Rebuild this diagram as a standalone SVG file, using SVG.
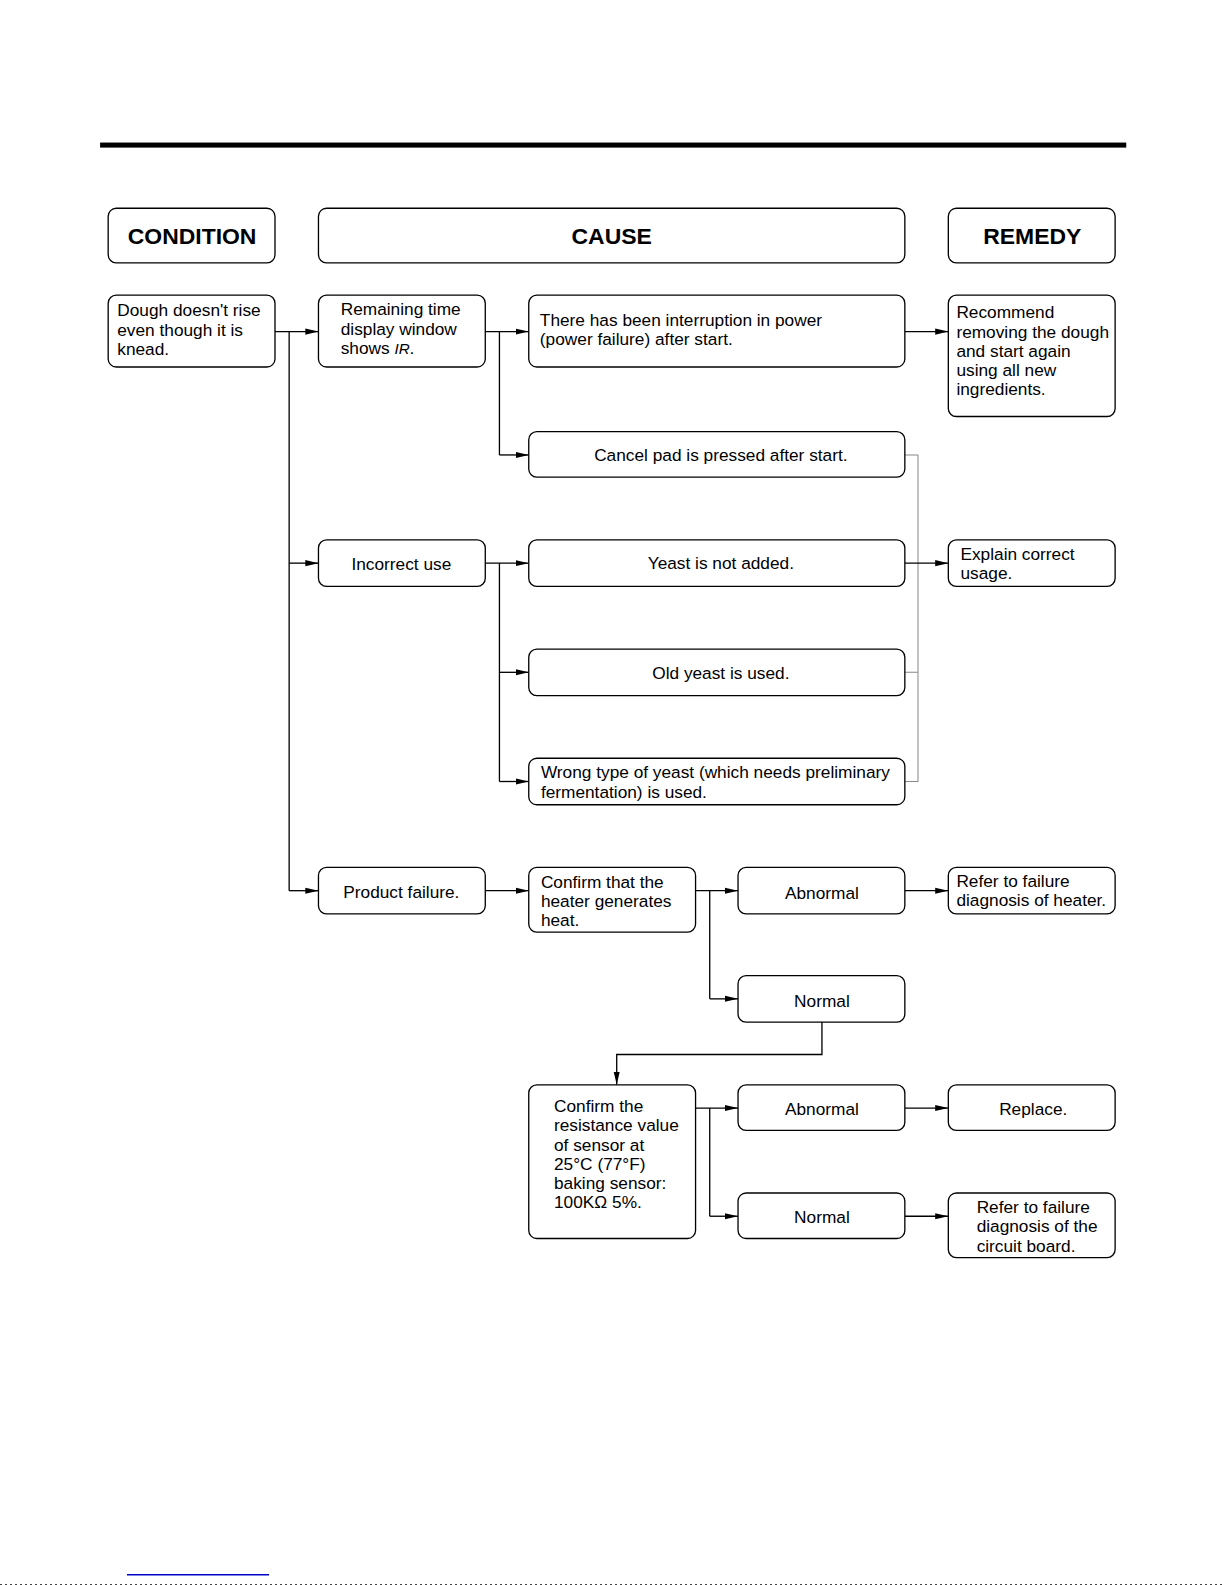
<svg xmlns="http://www.w3.org/2000/svg" width="1225" height="1585" viewBox="0 0 1225 1585">
<defs>
<marker id="ah" markerWidth="14" markerHeight="8" refX="13" refY="4" orient="auto" markerUnits="userSpaceOnUse">
<path d="M0,1 L13,4 L0,7 Z" fill="#000"/>
</marker>
</defs>
<style>
.box{fill:#fff;stroke:#000;stroke-width:1.3}
.t{font-family:"Liberation Sans",Arial,sans-serif;font-size:17.1px;fill:#000}
.h{font-family:"Liberation Sans",Arial,sans-serif;font-size:22.7px;font-weight:bold;fill:#000}
.c{text-anchor:middle}
.ln{fill:none;stroke:#000;stroke-width:1.3}
.ar{fill:none;stroke:#000;stroke-width:1.3;marker-end:url(#ah)}
.gr{fill:none;stroke:#888;stroke-width:1}
</style>
<rect x="0" y="0" width="1225" height="1585" fill="#fff"/>
<g transform="scale(1.011)">
<rect x="99" y="141" width="1015" height="5" fill="#000"/>

<g id="connectors">
<path class="ar" d="M272,328 H315"/>
<path class="ln" d="M286,328 V881"/>
<path class="ar" d="M286,557 H315"/>
<path class="ar" d="M286,881 H315"/>
<path class="ar" d="M480,328 H523"/>
<path class="ln" d="M494,328 V450"/>
<path class="ar" d="M494,450 H523"/>
<path class="ar" d="M895,328 H938"/>
<path class="ar" d="M480,557 H523"/>
<path class="ln" d="M494,557 V773"/>
<path class="ar" d="M494,665 H523"/>
<path class="ar" d="M494,773 H523"/>
<path class="gr" d="M895,450 H908 V773 H895 M895,665 H908"/>
<path class="ar" d="M895,557 H938"/>
<path class="ar" d="M480,881 H523"/>
<path class="ar" d="M688,881 H730"/>
<path class="ln" d="M702,881 V988"/>
<path class="ar" d="M702,988 H730"/>
<path class="ar" d="M895,881 H938"/>
<path class="ar" d="M813,1011 V1043 H610 V1073"/>
<path class="ar" d="M688,1096 H730"/>
<path class="ln" d="M702,1096 V1203"/>
<path class="ar" d="M702,1203 H730"/>
<path class="ar" d="M895,1096 H938"/>
<path class="ar" d="M895,1203 H938"/>
</g>

<g id="hdr-condition"><rect class="box" x="107" y="206" width="165" height="54" rx="8"/><text class="h c" x="190" y="241">CONDITION</text></g>
<g id="hdr-cause"><rect class="box" x="315" y="206" width="580" height="54" rx="8"/><text class="h c" x="605" y="241">CAUSE</text></g>
<g id="hdr-remedy"><rect class="box" x="938" y="206" width="165" height="54" rx="8"/><text class="h c" x="1021" y="241">REMEDY</text></g>

<g id="n-condition"><rect class="box" x="107" y="292" width="165" height="71" rx="8"/>
<text class="t" x="116" y="313">Dough doesn't rise</text><text class="t" x="116" y="332">even though it is</text><text class="t" x="116" y="351">knead.</text></g>

<g id="n-remaining"><rect class="box" x="315" y="292" width="165" height="71" rx="8"/>
<text class="t" x="337" y="312">Remaining time</text><text class="t" x="337" y="331">display window</text><text class="t" x="337" y="350">shows <tspan font-style="italic" font-size="15">IR</tspan>.</text></g>

<g id="n-interruption"><rect class="box" x="523" y="292" width="372" height="71" rx="8"/>
<text class="t" x="534" y="322">There has been interruption in power</text><text class="t" x="534" y="341">(power failure) after start.</text></g>

<g id="n-recommend"><rect class="box" x="938" y="292" width="165" height="120" rx="8"/>
<text class="t" x="946" y="315">Recommend</text><text class="t" x="946" y="334">removing the dough</text><text class="t" x="946" y="353">and start again</text><text class="t" x="946" y="372">using all new</text><text class="t" x="946" y="391">ingredients.</text></g>

<g id="n-cancel"><rect class="box" x="523" y="427" width="372" height="45" rx="8"/>
<text class="t c" x="713" y="456">Cancel pad is pressed after start.</text></g>

<g id="n-incorrect"><rect class="box" x="315" y="534" width="165" height="46" rx="8"/>
<text class="t c" x="397" y="564">Incorrect use</text></g>

<g id="n-yeast"><rect class="box" x="523" y="534" width="372" height="46" rx="8"/>
<text class="t c" x="713" y="563">Yeast is not added.</text></g>

<g id="n-explain"><rect class="box" x="938" y="534" width="165" height="46" rx="8"/>
<text class="t" x="950" y="554">Explain correct</text><text class="t" x="950" y="573">usage.</text></g>

<g id="n-old"><rect class="box" x="523" y="642" width="372" height="46" rx="8"/>
<text class="t c" x="713" y="672">Old yeast is used.</text></g>

<g id="n-wrong"><rect class="box" x="523" y="750" width="372" height="46" rx="8"/>
<text class="t" x="535" y="770">Wrong type of yeast (which needs preliminary</text><text class="t" x="535" y="789">fermentation) is used.</text></g>

<g id="n-product"><rect class="box" x="315" y="858" width="165" height="46" rx="8"/>
<text class="t c" x="397" y="888">Product failure.</text></g>

<g id="n-heater"><rect class="box" x="523" y="858" width="165" height="64" rx="8"/>
<text class="t" x="535" y="878">Confirm that the</text><text class="t" x="535" y="897">heater generates</text><text class="t" x="535" y="916">heat.</text></g>

<g id="n-abnormal1"><rect class="box" x="730" y="858" width="165" height="46" rx="8"/>
<text class="t c" x="813" y="889">Abnormal</text></g>

<g id="n-refer-heater"><rect class="box" x="938" y="858" width="165" height="46" rx="8"/>
<text class="t" x="946" y="877">Refer to failure</text><text class="t" x="946" y="896">diagnosis of heater.</text></g>

<g id="n-normal1"><rect class="box" x="730" y="965" width="165" height="46" rx="8"/>
<text class="t c" x="813" y="996">Normal</text></g>

<g id="n-resistance"><rect class="box" x="523" y="1073" width="165" height="152" rx="8"/>
<text class="t" x="548" y="1100">Confirm the</text><text class="t" x="548" y="1119">resistance value</text><text class="t" x="548" y="1138">of sensor at</text><text class="t" x="548" y="1157">25°C (77°F)</text><text class="t" x="548" y="1176">baking sensor:</text><text class="t" x="548" y="1195">100KΩ 5%.</text></g>

<g id="n-abnormal2"><rect class="box" x="730" y="1073" width="165" height="45" rx="8"/>
<text class="t c" x="813" y="1103">Abnormal</text></g>

<g id="n-replace"><rect class="box" x="938" y="1073" width="165" height="45" rx="8"/>
<text class="t c" x="1022" y="1103">Replace.</text></g>

<g id="n-normal2"><rect class="box" x="730" y="1180" width="165" height="45" rx="8"/>
<text class="t c" x="813" y="1210">Normal</text></g>

<g id="n-refer-circuit"><rect class="box" x="938" y="1180" width="165" height="64" rx="8"/>
<text class="t" x="966" y="1200">Refer to failure</text><text class="t" x="966" y="1219">diagnosis of the</text><text class="t" x="966" y="1238">circuit board.</text></g>
</g>

<rect x="127" y="1574" width="142" height="1.5" fill="#0000cc"/>
<line x1="0" y1="1584.5" x2="1225" y2="1584.5" stroke="#444" stroke-width="1" stroke-dasharray="2,3"/>
</svg>
